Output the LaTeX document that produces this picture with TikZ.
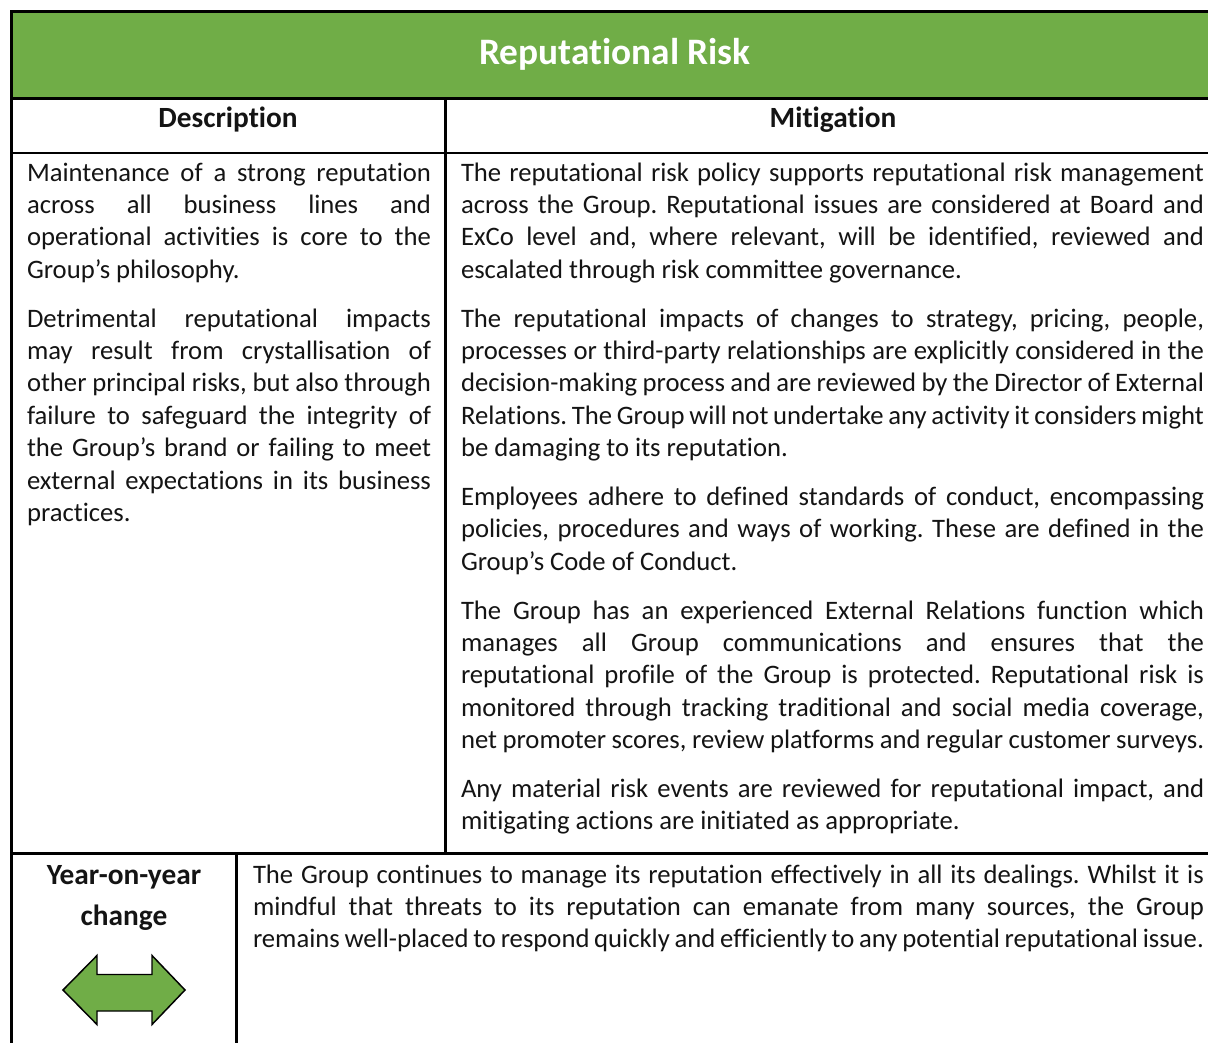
\documentclass[tikz,border=0pt]{standalone}
\usepackage{fontspec}
\setmainfont{Carlito}[Ligatures={NoCommon}]
\definecolor{hdrgreen}{HTML}{70AD47}
\definecolor{txt}{HTML}{141414}
\newcommand\bodyfont{\fontsize{20}{24}\selectfont\frenchspacing}
\newcommand\myjust[5]{\node[txtline] (#1) at (#2,#3) {\makebox[#4][s]{#5}};}
\newcommand\myleft[4]{\node[txtline] (#1) at (#2,#3) {#4};}
\begin{document}
\begin{tikzpicture}[x=0.75pt,y=-0.75pt,
  rule/.style={line width=1.9pt,black},
  outer/.style={line width=2.25pt,black},
  txtline/.style={anchor=base west,inner sep=0pt,outer sep=0pt,text=txt,font=\bodyfont,yshift=-1.9pt},
  titletext/.style={anchor=base,inner sep=0pt,text=white,font=\fontsize{28}{34}\selectfont\bfseries,yshift=-0.75pt},
  headtext/.style={anchor=base,inner sep=0pt,text=txt,font=\fontsize{22}{26}\selectfont\bfseries,yshift=-0.75pt}]
\useasboundingbox (0,0) rectangle (1208,1043);
% header band
\fill[hdrgreen] (12,12) rectangle (1208,98);
% rules
\draw[outer] (11.5,1043) -- (11.5,11.5) -- (1208,11.5);
\draw[rule] (11.5,98.5) -- (1208,98.5);
\draw[rule] (11.5,153) -- (1208,153);
\draw[rule] (445.5,98.5) -- (445.5,853.5);
\draw[rule] (11.5,853.5) -- (1208,853.5);
\draw[rule] (236.5,853.5) -- (236.5,1043);
% titles
\node[titletext] (title) at (615,63.3) {Reputational Risk};
\node[headtext] (hdesc) at (228,126.7) {Description};
\node[headtext] (hmit) at (833,126.7) {Mitigation};
% description column
\myjust{d1}{27}{178.5}{303pt}{Maintenance of a strong reputation}
\myjust{d2}{27}{210.95}{303pt}{across all business lines and}
\myjust{d3}{27}{243.4}{303pt}{operational activities is core to the}
\myleft{d4}{27}{275.85}{Group’s philosophy.}
\myjust{d5}{27}{324.5}{303pt}{Detrimental reputational impacts}
\myjust{d6}{27}{356.95}{303pt}{may result from crystallisation of}
\myjust{d7}{27}{389.4}{303pt}{other principal risks, but also through}
\myjust{d8}{27}{421.85}{303pt}{failure to safeguard the integrity of}
\myjust{d9}{27}{454.3}{303pt}{the Group’s brand or failing to meet}
\myjust{d10}{27}{486.75}{303pt}{external expectations in its business}
\myleft{d11}{27}{519.2}{practices.}
% mitigation column
\myjust{m1}{461}{178.5}{557.25pt}{The reputational risk policy supports reputational risk management}
\myjust{m2}{461}{210.95}{557.25pt}{across the Group. Reputational issues are considered at Board and}
\myjust{m3}{461}{243.4}{557.25pt}{ExCo level and, where relevant, will be identified, reviewed and}
\myleft{m4}{461}{275.85}{escalated through risk committee governance.}
\myjust{m5}{461}{324.5}{557.25pt}{The reputational impacts of changes to strategy, pricing, people,}
\myjust{m6}{461}{356.95}{557.25pt}{processes or third-party relationships are explicitly considered in the}
\myjust{m7}{461}{389.4}{557.25pt}{decision-making process and are reviewed by the Director of External}
\myjust{m8}{461}{421.85}{557.25pt}{Relations. The Group will not undertake any activity it considers might}
\myleft{m9}{461}{454.3}{be damaging to its reputation.}
\myjust{m10}{461}{502.95}{557.25pt}{Employees adhere to defined standards of conduct, encompassing}
\myjust{m11}{461}{535.4}{557.25pt}{policies, procedures and ways of working. These are defined in the}
\myleft{m12}{461}{567.85}{Group’s Code of Conduct.}
\myjust{m13}{461}{616.5}{557.25pt}{The Group has an experienced External Relations function which}
\myjust{m14}{461}{648.95}{557.25pt}{manages all Group communications and ensures that the}
\myjust{m15}{461}{681.4}{557.25pt}{reputational profile of the Group is protected. Reputational risk is}
\myjust{m16}{461}{713.85}{557.25pt}{monitored through tracking traditional and social media coverage,}
\myjust{m17}{461}{746.3}{557.25pt}{net promoter scores, review platforms and regular customer surveys.}
\myjust{m18}{461}{794.95}{557.25pt}{Any material risk events are reviewed for reputational impact, and}
\myleft{m19}{461}{827.4}{mitigating actions are initiated as appropriate.}
% year-on-year
\node[headtext] (yoy1) at (124,883.3) {Year-on-year};
\node[headtext] (yoy2) at (124,924) {change};
\draw[fill=hdrgreen,line width=1.1pt,line join=miter] (63,990) -- (97,955.5) -- (97,974.5) -- (152,974.5) -- (152,955.5) -- (185,990) -- (152,1024.5) -- (152,1011) -- (97,1011) -- (97,1024.5) -- cycle;
\myjust{b1}{253}{880.5}{713.25pt}{The Group continues to manage its reputation effectively in all its dealings. Whilst it is}
\myjust{b2}{253}{912.95}{713.25pt}{mindful that threats to its reputation can emanate from many sources, the Group}
\myjust{b3}{253}{945.4}{713.25pt}{remains well-placed to respond quickly and efficiently to any potential reputational issue.}
\end{tikzpicture}
\end{document}
